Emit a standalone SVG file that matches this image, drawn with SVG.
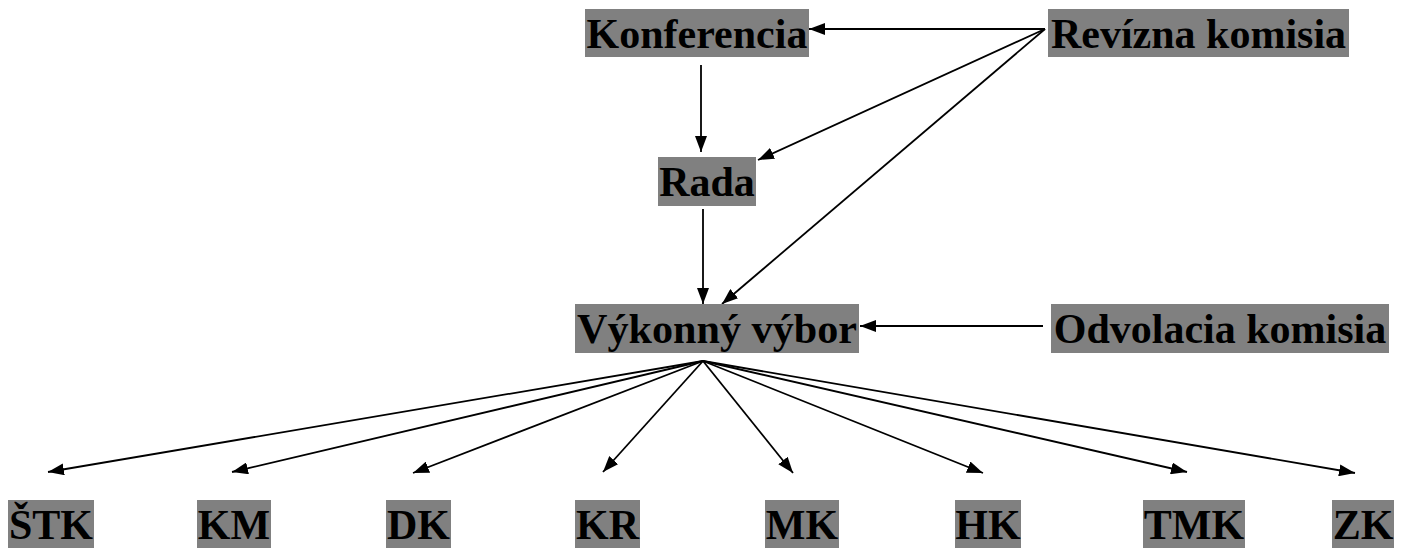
<svg xmlns="http://www.w3.org/2000/svg" width="1406" height="548" viewBox="0 0 1406 548">
<style>
.box{fill:#808080}
.t{font-family:"Liberation Serif","Times New Roman",serif;font-weight:bold;font-size:42px;fill:#000;text-anchor:middle}
.c{stroke:#000;stroke-width:1.8;fill:none;marker-end:url(#ah)}
</style>
<defs>
<marker id="ah" markerUnits="userSpaceOnUse" markerWidth="16" markerHeight="12" refX="16" refY="6" orient="auto" viewBox="0 0 16 12">
<path d="M0,0 L16,6 L0,12 z" fill="#000"/>
</marker>
</defs>
<rect width="1406" height="548" fill="#fff"/>
<g id="connectors">
<line class="c" x1="1045" y1="29" x2="809" y2="29"/>
<line class="c" x1="1045" y1="29" x2="758" y2="160"/>
<line class="c" x1="1045" y1="29" x2="722" y2="304"/>
<line class="c" x1="701" y1="65" x2="701" y2="152"/>
<line class="c" x1="703" y1="209" x2="703" y2="304"/>
<line class="c" x1="1043" y1="326" x2="860" y2="326"/>
<line class="c" x1="703" y1="361" x2="48" y2="472"/>
<line class="c" x1="703" y1="361" x2="232" y2="472"/>
<line class="c" x1="703" y1="361" x2="413" y2="473"/>
<line class="c" x1="703" y1="361" x2="603" y2="472"/>
<line class="c" x1="703" y1="361" x2="793" y2="473"/>
<line class="c" x1="703" y1="361" x2="983" y2="473"/>
<line class="c" x1="703" y1="361" x2="1187" y2="472"/>
<line class="c" x1="703" y1="361" x2="1355" y2="473"/>
</g>
<g id="konferencia"><rect class="box" x="585" y="9" width="224" height="48"/><text class="t" x="697" y="48">Konferencia</text></g>
<g id="revizna"><rect class="box" x="1048" y="9" width="301" height="48"/><text class="t" x="1198.5" y="48">Revízna komisia</text></g>
<g id="rada"><rect class="box" x="658" y="157" width="98" height="49"/><text class="t" x="707" y="196">Rada</text></g>
<g id="vykonny"><rect class="box" x="575" y="304" width="284" height="49"/><text class="t" x="717" y="343" textLength="280" lengthAdjust="spacingAndGlyphs">Výkonný výbor</text></g>
<g id="odvolacia"><rect class="box" x="1051" y="304" width="338" height="49"/><text class="t" x="1220" y="343">Odvolacia komisia</text></g>
<g id="stk"><rect class="box" x="8" y="500" width="86" height="48"/><text class="t" x="51" y="539">ŠTK</text></g>
<g id="km"><rect class="box" x="197" y="500" width="74" height="48"/><text class="t" x="234" y="539">KM</text></g>
<g id="dk"><rect class="box" x="386" y="500" width="65" height="48"/><text class="t" x="418.5" y="539">DK</text></g>
<g id="kr"><rect class="box" x="575" y="500" width="65" height="48"/><text class="t" x="607.5" y="539">KR</text></g>
<g id="mk"><rect class="box" x="765" y="500" width="74" height="48"/><text class="t" x="802" y="539">MK</text></g>
<g id="hk"><rect class="box" x="955" y="500" width="66" height="48"/><text class="t" x="988" y="539">HK</text></g>
<g id="tmk"><rect class="box" x="1143" y="500" width="102" height="48"/><text class="t" x="1194" y="539">TMK</text></g>
<g id="zk"><rect class="box" x="1332" y="500" width="62" height="48"/><text class="t" x="1363" y="539">ZK</text></g>
</svg>
